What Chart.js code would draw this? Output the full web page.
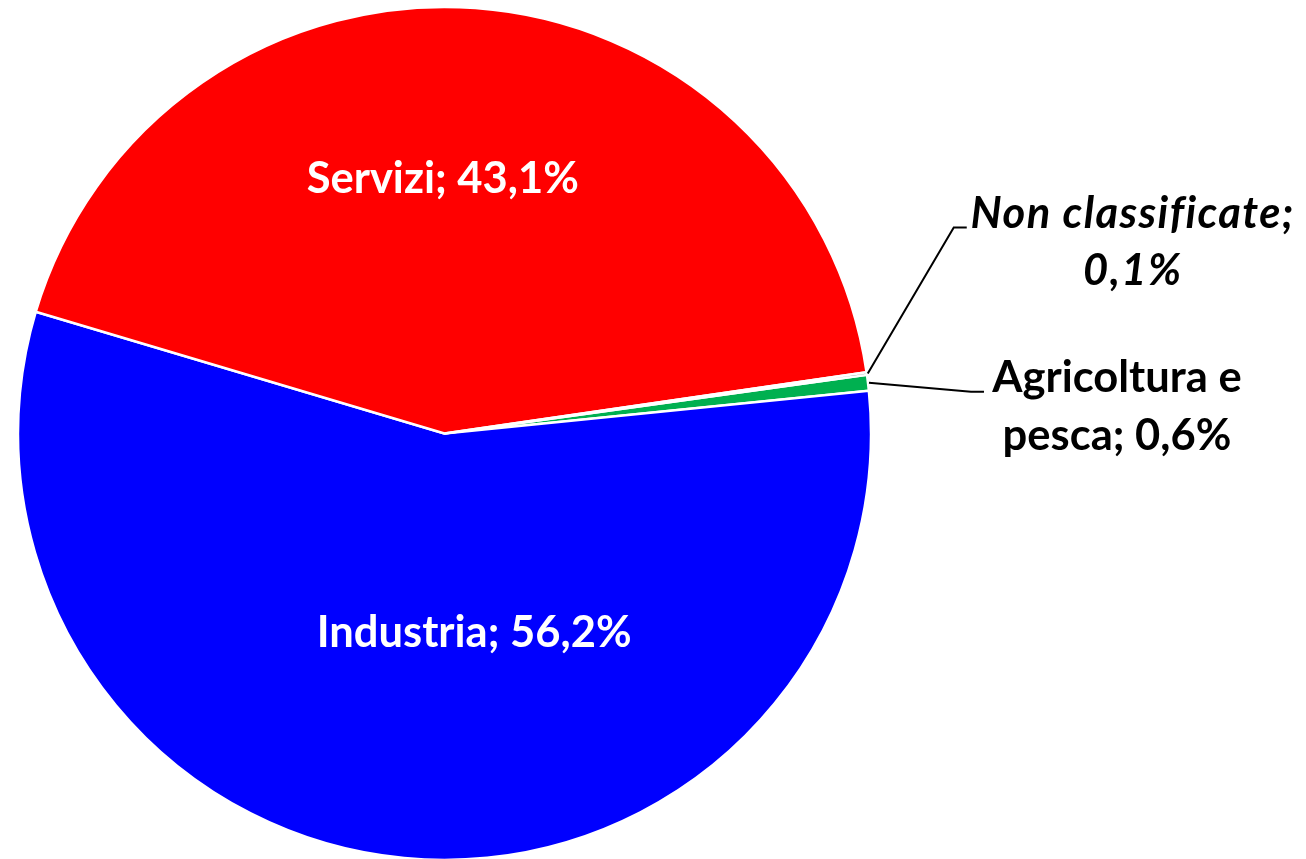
<!DOCTYPE html>
<html>
<head>
<meta charset="utf-8">
<script src="https://cdn.jsdelivr.net/npm/chart.js@4/dist/chart.umd.min.js"></script>
<style>
  html, body { margin: 0; padding: 0; background: #ffffff; }
  #wrap { width: 1306px; height: 859px; position: relative; }
</style>
</head>
<body>
<div id="wrap"><canvas id="c" width="1306" height="859"></canvas></div>
<script>
// ---- data ----
const categories = ["Agricoltura e pesca", "Industria", "Servizi", "Non classificate"];
const shares = [0.6, 56.2, 43.1, 0.1];
const sliceColors = ["#00B050", "#0000FF", "#FF0000", "#7F7F7F"];
const labelLines = [
  ["Agricoltura e", "pesca; 0,6%"],
  ["Industria; 56,2%"],
  ["Servizi; 43,1%"],
  ["Non classificate;", "0,1%"]
];

const FONT_FAMILY = "Lato, 'Open Sans', 'Liberation Sans', sans-serif";
const FONT_SIZE = 43.5;

const labelPlugin = {
  id: 'sliceLabels',
  afterDatasetsDraw(chart, args, opts) {
    const ctx = chart.ctx;
    const meta = chart.getDatasetMeta(0);
    ctx.save();
    meta.data.forEach((arc, i) => {
      const p = arc.getProps(['x', 'y', 'startAngle', 'endAngle', 'outerRadius'], true);
      const mid = (p.startAngle + p.endAngle) / 2;
      const cfg = opts.labels[i];
      if (!cfg) return;
      const italic = cfg.italic ? 'italic ' : '';
      ctx.font = italic + 'bold ' + FONT_SIZE + 'px ' + FONT_FAMILY;
      ctx.letterSpacing = (cfg.spacing || 0) + 'px';
      ctx.textAlign = 'center';
      ctx.textBaseline = 'alphabetic';
      const lines = labelLines[i];
      if (cfg.inside) {
        const a = mid + cfg.angleShift * Math.PI / 180;
        const r = p.outerRadius * cfg.radial;
        const x = p.x + Math.cos(a) * r;
        const y = p.y + Math.sin(a) * r;
        ctx.fillStyle = '#FFFFFF';
        ctx.fillText(lines[0], x, y + 15);
      } else {
        const sx = p.x + Math.cos(mid) * (p.outerRadius + 1);
        const sy = p.y + Math.sin(mid) * (p.outerRadius + 1);
        const ex = sx + cfg.elbow[0], ey = sy + cfg.elbow[1];
        const tx = ex + cfg.tail;
        ctx.strokeStyle = '#000000';
        ctx.lineWidth = 2;
        ctx.beginPath();
        ctx.moveTo(sx, sy);
        ctx.lineTo(ex, ey);
        ctx.lineTo(tx, ey);
        ctx.stroke();
        ctx.fillStyle = '#000000';
        lines.forEach((ln, k) => {
          ctx.fillText(ln, tx + cfg.textDx, ey + cfg.textDy + k * cfg.lineGap);
        });
      }
    });
    ctx.restore();
  }
};

new Chart(document.getElementById('c'), {
  type: 'pie',
  data: {
    labels: categories,
    datasets: [{
      data: shares,
      backgroundColor: sliceColors,
      borderColor: '#FFFFFF',
      borderWidth: 2.5,
      hoverOffset: 0
    }]
  },
  options: {
    responsive: false,
    animation: false,
    rotation: 82.1,
    radius: 426.5,
    layout: { padding: { left: 19, top: 8, right: 436, bottom: 0 } },
    plugins: {
      legend: { display: false },
      tooltip: { enabled: false },
      sliceLabels: {
        labels: [
          { inside: false, elbow: [102, 9], tail: 13, textDx: 133, textDy: 0, lineGap: 58 },
          { inside: true, angleShift: -13.9, radial: 0.471 },
          { inside: true, angleShift: -4.56, radial: 0.60 },
          { inside: false, italic: true, spacing: 1.4, elbow: [86, -146], tail: 13, textDx: 166, textDy: 1, lineGap: 57 }
        ]
      }
    }
  },
  plugins: [labelPlugin]
});
</script>
</body>
</html>
